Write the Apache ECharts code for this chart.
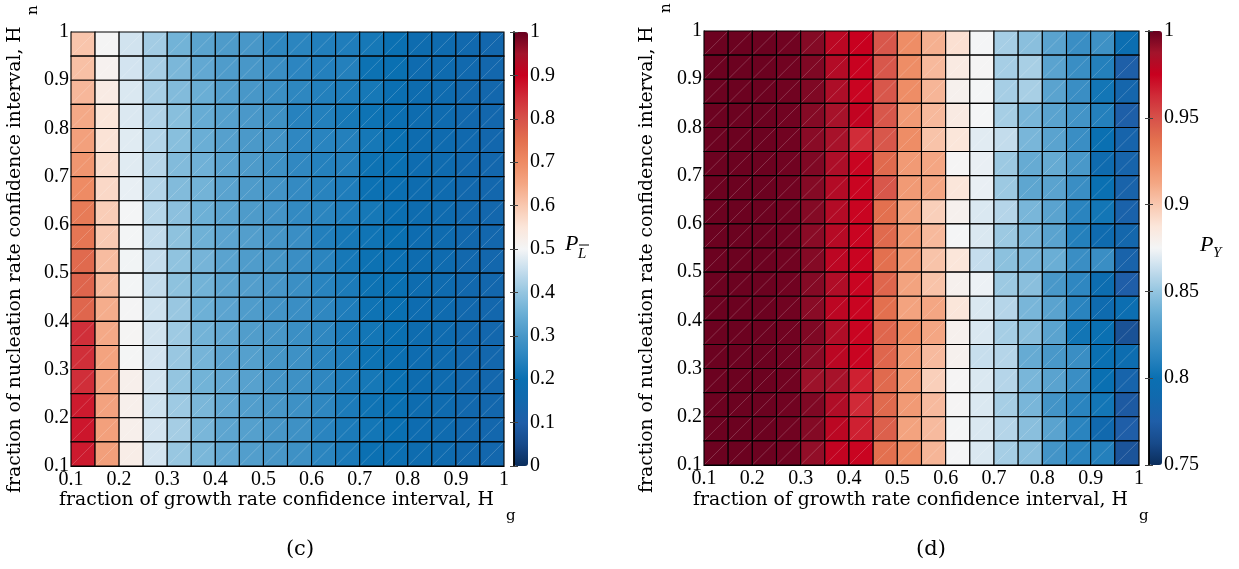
<!DOCTYPE html>
<html><head><meta charset="utf-8">
<script src="https://cdn.jsdelivr.net/npm/echarts@6/dist/echarts.min.js"></script>
<style>html,body{margin:0;padding:0;background:#fff}#chart{width:1239px;height:569px}</style>
</head><body><div id="chart"></div>
<script>
// cell edges along both axes
const hgEdges = [0.1,0.15,0.2,0.25,0.3,0.35,0.4,0.45,0.5,0.55,0.6,0.65,0.7,0.75,0.8,0.85,0.9,0.95,1.0];
const hnEdges = [0.1,0.15,0.2,0.25,0.3,0.35,0.4,0.45,0.5,0.55,0.6,0.65,0.7,0.75,0.8,0.85,0.9,0.95,1.0];
const cbarTicksC = [0,0.1,0.2,0.3,0.4,0.5,0.6,0.7,0.8,0.9,1];
const cbarTicksD = [0.75,0.8,0.85,0.9,0.95,1];
const cmap = ['#0b2d5c','#174a8a','#1f5ea8','#1268ad','#0a70b2','#2a84bf','#4897c8','#6aaed5','#94c5e0','#c5dded','#f4f5f6','#fbe6da','#f9c8b0','#f4a683','#ee8b64','#e3704f','#d6514a','#d02c38','#c8001f','#a3142b','#67001f'];

// (c) P_Lbar: one array per Hg column; values listed from top row (Hn 0.95-1) to bottom row (Hn 0.1-0.15)
const pL_cols = [
 [0.604,0.612,0.625,0.646,0.661,0.68,0.70,0.73,0.739,0.76,0.768,0.766,0.846,0.846,0.847,0.87,0.875,0.87],
 [0.503,0.513,0.533,0.55,0.555,0.567,0.573,0.592,0.597,0.618,0.622,0.64,0.646,0.656,0.657,0.657,0.661,0.663],
 [0.463,0.465,0.472,0.473,0.479,0.479,0.487,0.50,0.499,0.497,0.499,0.502,0.505,0.501,0.52,0.52,0.52,0.527],
 [0.415,0.419,0.419,0.43,0.433,0.436,0.433,0.435,0.448,0.45,0.448,0.46,0.463,0.465,0.465,0.46,0.465,0.465],
 [0.36,0.37,0.378,0.386,0.386,0.378,0.378,0.39,0.393,0.395,0.393,0.405,0.41,0.405,0.40,0.41,0.417,0.404],
 [0.328,0.338,0.35,0.346,0.35,0.357,0.361,0.354,0.356,0.364,0.361,0.354,0.361,0.364,0.36,0.37,0.368,0.369],
 [0.309,0.31,0.315,0.319,0.32,0.326,0.326,0.326,0.329,0.326,0.331,0.329,0.338,0.329,0.338,0.338,0.331,0.338],
 [0.30,0.30,0.30,0.303,0.304,0.309,0.309,0.309,0.316,0.31,0.316,0.31,0.313,0.319,0.322,0.315,0.319,0.315],
 [0.257,0.277,0.279,0.283,0.292,0.283,0.292,0.293,0.295,0.297,0.298,0.292,0.30,0.297,0.295,0.30,0.30,0.30],
 [0.252,0.253,0.257,0.245,0.259,0.261,0.266,0.265,0.277,0.277,0.279,0.277,0.279,0.283,0.283,0.283,0.283,0.283],
 [0.238,0.241,0.239,0.239,0.249,0.242,0.247,0.252,0.238,0.252,0.249,0.258,0.258,0.252,0.258,0.258,0.25,0.252],
 [0.233,0.24,0.23,0.22,0.24,0.24,0.233,0.233,0.22,0.22,0.228,0.233,0.226,0.231,0.231,0.228,0.228,0.226],
 [0.219,0.205,0.219,0.207,0.219,0.204,0.203,0.219,0.21,0.204,0.204,0.208,0.214,0.207,0.219,0.208,0.214,0.201],
 [0.197,0.2,0.195,0.195,0.198,0.2,0.195,0.195,0.2,0.195,0.2,0.2,0.2,0.195,0.2,0.2,0.198,0.195],
 [0.172,0.17,0.172,0.172,0.172,0.175,0.172,0.172,0.175,0.172,0.172,0.175,0.172,0.175,0.172,0.172,0.175,0.172],
 [0.168,0.166,0.166,0.166,0.166,0.166,0.166,0.166,0.166,0.166,0.166,0.166,0.166,0.166,0.166,0.166,0.166,0.166],
 [0.155,0.155,0.153,0.153,0.155,0.153,0.153,0.153,0.153,0.153,0.153,0.153,0.153,0.153,0.153,0.153,0.153,0.153],
 [0.145,0.145,0.145,0.145,0.145,0.145,0.145,0.145,0.145,0.145,0.145,0.145,0.145,0.145,0.145,0.145,0.145,0.145]
];

// (d) P_Y: one array per Hg column; values from top row to bottom row
const pY_cols = [
 [0.999,0.999,0.999,0.999,0.999,0.999,0.999,0.999,0.999,0.999,0.999,0.999,0.999,0.999,0.999,0.999,0.999,0.999],
 [0.999,0.999,0.999,0.999,0.999,0.999,0.999,0.999,0.999,0.999,0.999,0.999,0.999,0.999,0.999,0.999,0.999,0.999],
 [0.999,0.999,0.999,0.999,0.999,0.999,0.999,0.999,0.999,0.999,0.999,0.999,0.999,0.999,0.999,0.999,0.999,0.999],
 [0.998,0.998,0.998,0.998,0.998,0.998,0.998,0.998,0.998,0.998,0.998,0.998,0.998,0.998,0.998,0.998,0.998,0.998],
 [0.994,0.995,0.995,0.994,0.993,0.995,0.994,0.994,0.993,0.994,0.994,0.993,0.995,0.993,0.989,0.995,0.994,0.991],
 [0.9795,0.982,0.984,0.986,0.986,0.984,0.982,0.982,0.981,0.979,0.983,0.979,0.983,0.9795,0.986,0.983,0.9795,0.977],
 [0.975,0.9745,0.974,0.977,0.9625,0.974,0.974,0.974,0.974,0.974,0.974,0.974,0.974,0.974,0.966,0.963,0.966,0.974],
 [0.9476,0.9476,0.9476,0.9476,0.9476,0.94,0.9476,0.9375,0.94,0.9375,0.9415,0.9375,0.9415,0.9415,0.94,0.94,0.944,0.9375],
 [0.924,0.924,0.924,0.918,0.924,0.918,0.918,0.914,0.918,0.918,0.914,0.914,0.924,0.918,0.918,0.918,0.914,0.924],
 [0.909,0.9055,0.907,0.9055,0.902,0.9125,0.9125,0.897,0.9055,0.902,0.902,0.9125,0.9125,0.905,0.897,0.905,0.905,0.907],
 [0.89,0.884,0.879,0.884,0.8875,0.876,0.8875,0.879,0.875,0.8875,0.879,0.8875,0.879,0.879,0.876,0.876,0.875,0.875],
 [0.875,0.876,0.875,0.875,0.870,0.872,0.872,0.868,0.868,0.8625,0.873,0.868,0.868,0.863,0.868,0.868,0.868,0.868],
 [0.8545,0.8545,0.8545,0.8545,0.862,0.852,0.852,0.8585,0.852,0.8476,0.852,0.8585,0.8545,0.8585,0.8585,0.8545,0.8585,0.8545],
 [0.847,0.855,0.855,0.842,0.842,0.836,0.833,0.842,0.842,0.842,0.847,0.842,0.847,0.836,0.842,0.842,0.847,0.847],
 [0.8316,0.8316,0.8316,0.8316,0.8316,0.836,0.8316,0.8316,0.8316,0.8375,0.8255,0.8316,0.8316,0.8255,0.8316,0.823,0.8316,0.823],
 [0.819,0.819,0.819,0.823,0.819,0.8255,0.819,0.8126,0.81,0.819,0.8146,0.8126,0.803,0.819,0.819,0.8126,0.8126,0.8126],
 [0.821,0.81,0.8035,0.81,0.80,0.792,0.80,0.8036,0.792,0.819,0.795,0.792,0.80,0.80,0.80,0.8035,0.789,0.81],
 [0.7975,0.776,0.785,0.776,0.7825,0.7825,0.781,0.78,0.786,0.781,0.775,0.7975,0.7675,0.796,0.7825,0.7725,0.775,0.769]
];

function buildCells(cols) {
  const out = [];
  const nRows = hnEdges.length - 1;
  cols.forEach((col, i) => {
    col.forEach((v, j) => {
      const r = nRows - 1 - j; // row index counted from bottom
      out.push([hgEdges[i], hnEdges[r], v, hgEdges[i + 1], hnEdges[r + 1]]);
    });
  });
  return out;
}

function renderCell(params, api) {
  const a = api.coord([api.value(0), api.value(1)]);
  const b = api.coord([api.value(3), api.value(4)]);
  const fill = api.visual('color');
  return {
    type: 'group',
    children: [
      { type: 'rect', shape: { x: a[0], y: b[1], width: b[0] - a[0], height: a[1] - b[1] },
        style: { fill: fill, stroke: '#000', lineWidth: 1.1 } },
      { type: 'line', shape: { x1: a[0] + 0.8, y1: a[1] - 0.8, x2: b[0] - 0.8, y2: b[1] + 0.8 },
        style: { stroke: 'rgba(255,255,255,0.32)', lineWidth: 0.6 } }
    ]
  };
}

const TICKFONT = 'Liberation Serif';

function mainX(grid) {
  return { type: 'value', gridIndex: grid, min: 0.1, max: 1, interval: 0.1,
    axisLine: { show: true, lineStyle: { color: '#000', width: 1 } }, axisTick: { show: false },
    splitLine: { show: false },
    axisLabel: { color: '#000', fontFamily: TICKFONT, fontSize: 20, margin: 4 } };
}
function mainY(grid) {
  return { type: 'value', gridIndex: grid, min: 0.1, max: 1, interval: 0.1,
    axisLine: { show: true, lineStyle: { color: '#000', width: 1 } }, axisTick: { show: false },
    splitLine: { show: false },
    axisLabel: { color: '#000', fontFamily: TICKFONT, fontSize: 20, margin: 2 } };
}
function cbY(grid, ticks, pos, labels) {
  const step = +(ticks[1] - ticks[0]).toFixed(4);
  return { type: 'value', gridIndex: grid, position: pos, min: ticks[0], max: ticks[ticks.length - 1], interval: step, z: 10,
    axisLine: { show: true, lineStyle: { color: '#000', width: 1.5 } },
    axisTick: { show: true, inside: true, length: 4, lineStyle: { color: '#444', width: 1 } },
    splitLine: { show: false },
    axisLabel: { show: labels, color: '#000', fontFamily: TICKFONT, fontSize: 20, margin: 2 } };
}
function hiddenX(grid) { return { type: 'value', gridIndex: grid, show: false, min: 0, max: 1 }; }

function txt(x, y, text, font, opts, align) {
  return Object.assign({ type: 'text', x: x, y: y, z: 20,
    style: { text: text, font: font, fill: '#000', textAlign: align || 'left', textVerticalAlign: 'middle' } }, opts || {});
}

const chart = echarts.init(document.getElementById('chart'), null, { renderer: 'canvas' });
chart.setOption({
  animation: false,
  backgroundColor: '#fff',
  grid: [
    { left: 71, top: 32, width: 433, height: 434 },
    { left: 514, top: 32, width: 14, height: 434, z: 10 },
    { left: 704, top: 31, width: 435, height: 434 },
    { left: 1149, top: 31, width: 13, height: 434, z: 10 }
  ],
  xAxis: [ mainX(0), hiddenX(1), mainX(2), hiddenX(3) ],
  yAxis: [
    mainY(0),
    cbY(1, cbarTicksC, 'right', true), cbY(1, cbarTicksC, 'left', false),
    mainY(2),
    cbY(3, cbarTicksD, 'right', true), cbY(3, cbarTicksD, 'left', false)
  ],
  visualMap: [
    { type: 'continuous', seriesIndex: 0, dimension: 2, min: 0, max: 1, orient: 'vertical',
      left: 514, top: 32, itemWidth: 14, itemHeight: 434, padding: 0, calculable: false, hoverLink: false,
      inRange: { color: cmap } },
    { type: 'continuous', seriesIndex: 1, dimension: 2, min: 0.75, max: 1, orient: 'vertical',
      left: 1149, top: 31, itemWidth: 13, itemHeight: 434, padding: 0, calculable: false, hoverLink: false,
      inRange: { color: cmap } }
  ],
  series: [
    { type: 'custom', xAxisIndex: 0, yAxisIndex: 0, renderItem: renderCell, data: buildCells(pL_cols),
      encode: { x: [0, 3], y: [1, 4] } },
    { type: 'custom', xAxisIndex: 2, yAxisIndex: 3, renderItem: renderCell, data: buildCells(pY_cols),
      encode: { x: [0, 3], y: [1, 4] } }
  ],
  graphic: [
    txt(59, 500, 'fraction of growth rate confidence interval, H', '18.8px "DejaVu Serif"'),
    txt(506, 516, 'g', '15px "DejaVu Serif"'),
    txt(693, 500, 'fraction of growth rate confidence interval, H', '18.8px "DejaVu Serif"'),
    txt(1139, 516, 'g', '15px "DejaVu Serif"'),
    txt(15, 493, 'fraction of nucleation rate confidence interval, H', '18.8px "DejaVu Serif"', { rotation: Math.PI / 2 }),
    txt(33, 15, 'n', '15px "DejaVu Serif"', { rotation: Math.PI / 2 }),
    txt(647, 493, 'fraction of nucleation rate confidence interval, H', '18.8px "DejaVu Serif"', { rotation: Math.PI / 2 }),
    txt(666, 13, 'n', '15px "DejaVu Serif"', { rotation: Math.PI / 2 }),
    txt(565, 244, 'P', 'italic 22px "Liberation Serif"'),
    txt(578, 254, 'L', 'italic 15px "Liberation Serif"'),
    { type: 'line', z: 20, shape: { x1: 579, y1: 245, x2: 589, y2: 245 }, style: { stroke: '#000', lineWidth: 1 } },
    txt(1200, 245, 'P', 'italic 22px "Liberation Serif"'),
    txt(1213, 253, 'Y', 'italic 15px "Liberation Serif"'),
    txt(300, 550, '(c)', '21px "DejaVu Serif"', null, 'center'),
    txt(931, 550, '(d)', '21px "DejaVu Serif"', null, 'center')
  ]
});
</script>
</body></html>
